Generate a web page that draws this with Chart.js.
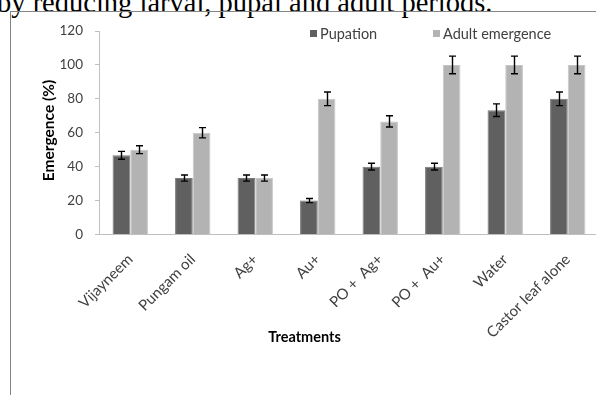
<!DOCTYPE html>
<html>
<head>
<meta charset="utf-8">
<script src="https://cdn.jsdelivr.net/npm/chart.js@4.4.1/dist/chart.umd.min.js"></script>
<style>
  html, body { margin: 0; padding: 0; background: #fff; overflow: hidden; }
  #page { position: relative; width: 596px; height: 395px; overflow: hidden; }
  #caption {
    position: absolute; left: -3px; top: -13px; white-space: nowrap;
    font-family: "Liberation Serif", "Times New Roman", serif; font-size: 28.5px; color: #000;
  }
  #frame {
    position: absolute; left: 10px; top: 11px; width: 600px; height: 400px;
    border-top: 1px solid #858585; border-left: 1px solid #858585;
  }
  #chart { position: absolute; left: 0; top: 0; }
</style>
</head>
<body>
<div id="page">
  <div id="caption">by reducing larval, pupal and adult periods.</div>
  <div id="frame"></div>
  <canvas id="chart" width="604" height="395"></canvas>
</div>
<script>
// Treatments on the x axis
const treatments = ['Vijayneem', 'Pungam oil', 'Ag+', 'Au+', 'PO +  Ag+', 'PO +  Au+', 'Water', 'Castor leaf alone'];

// Mean emergence (%) and standard errors per treatment
const pupation       = [46.7, 33.3, 33.3, 20.0, 40.0, 40.0, 73.3, 80.0];
const pupationErr    = [2.3, 1.8, 1.8, 1.2, 2.0, 2.0, 3.7, 4.0];
const adultEmergence = [50.0, 60.0, 33.3, 80.0, 66.7, 100, 100, 100];
const adultErr       = [2.3, 3.0, 1.8, 4.0, 3.3, 5.2, 5.2, 5.2];

// Y axis ticks
const yTicks = [0, 20, 40, 60, 80, 100, 120];

// Axis titles
const xTitle = 'Treatments';
const yTitle = 'Emergence (%)';

const FONT = 'Lato, "Open Sans", sans-serif';

// Draws a capped vertical error bar on top of every bar
const errorBars = {
  id: 'errorBars',
  afterDatasetsDraw(chart) {
    const ctx = chart.ctx;
    const y = chart.scales.y;
    ctx.save();
    ctx.strokeStyle = '#000';
    ctx.lineWidth = 1.4;
    chart.data.datasets.forEach((ds, i) => {
      const meta = chart.getDatasetMeta(i);
      meta.data.forEach((bar, j) => {
        const v = ds.data[j], e = ds.errors[j];
        const x = Math.round(bar.x) + 0.5;
        const t = y.getPixelForValue(v + e);
        const b = y.getPixelForValue(v - e);
        ctx.beginPath();
        ctx.moveTo(x, t); ctx.lineTo(x, b);
        ctx.moveTo(x - 3.5, t); ctx.lineTo(x + 3.5, t);
        ctx.moveTo(x - 3.5, b); ctx.lineTo(x + 3.5, b);
        ctx.stroke();
      });
    });
    ctx.restore();
  }
};

// Legend with small square swatches, placed in the upper part of the plot
const squareLegend = {
  id: 'squareLegend',
  afterDraw(chart) {
    const ctx = chart.ctx;
    const spots = [310, 433];
    ctx.save();
    ctx.font = '14.5px ' + FONT;
    ctx.textBaseline = 'middle';
    chart.data.datasets.forEach((ds, i) => {
      const x = spots[i];
      ctx.fillStyle = ds.backgroundColor;
      ctx.fillRect(x, 30, 7, 7);
      ctx.fillStyle = '#404040';
      ctx.fillText(ds.label, x + 10, 34);
    });
    ctx.restore();
  }
};

// Axis titles, placed under the labels and beside the value axis
const axisTitles = {
  id: 'axisTitles',
  afterDraw(chart) {
    const ctx = chart.ctx;
    ctx.save();
    ctx.fillStyle = '#000';
    ctx.textAlign = 'center';
    ctx.textBaseline = 'middle';
    ctx.font = 'bold 14.5px ' + FONT;
    ctx.fillText(xTitle, 304.5, 337);
    ctx.font = 'bold 15.5px ' + FONT;
    ctx.translate(49, 130.5);
    ctx.rotate(-Math.PI / 2);
    ctx.fillText(yTitle, 0, 0);
    ctx.restore();
  }
};

new Chart(document.getElementById('chart'), {
  type: 'bar',
  data: {
    labels: treatments,
    datasets: [
      { label: 'Pupation', data: pupation, errors: pupationErr,
        backgroundColor: '#606060', borderColor: '#7a7a7a', borderWidth: 1 },
      { label: 'Adult emergence', data: adultEmergence, errors: adultErr,
        backgroundColor: '#b3b3b3', borderColor: '#c6c6c6', borderWidth: 1 }
    ]
  },
  options: {
    responsive: false,
    animation: false,
    events: [],
    layout: { padding: { left: 36, right: 5, top: 31, bottom: 47 } },
    datasets: { bar: { categoryPercentage: 0.566, barPercentage: 1.0 } },
    plugins: { legend: { display: false }, tooltip: { enabled: false } },
    scales: {
      x: {
        grid: { display: false, drawTicks: false },
        border: { display: true, color: '#bfbfbf', width: 1 },
        ticks: { minRotation: 45, maxRotation: 45, autoSkip: false, padding: 16,
                 color: '#404040', font: { family: FONT, size: 15 } },
        afterFit(scale) { scale.height = 113.5; }
      },
      y: {
        min: 0, max: 120,
        afterBuildTicks(scale) { scale.ticks = yTicks.map(v => ({ value: v })); },
        grid: { drawOnChartArea: false, drawTicks: true, tickLength: 4, color: '#bfbfbf' },
        border: { display: true, color: '#bfbfbf', width: 1 },
        ticks: { padding: 12, color: '#404040', font: { family: FONT, size: 13.5 } },
        afterFit(scale) { scale.width = 63; }
      }
    }
  },
  plugins: [errorBars, squareLegend, axisTitles]
});
</script>
</body>
</html>
